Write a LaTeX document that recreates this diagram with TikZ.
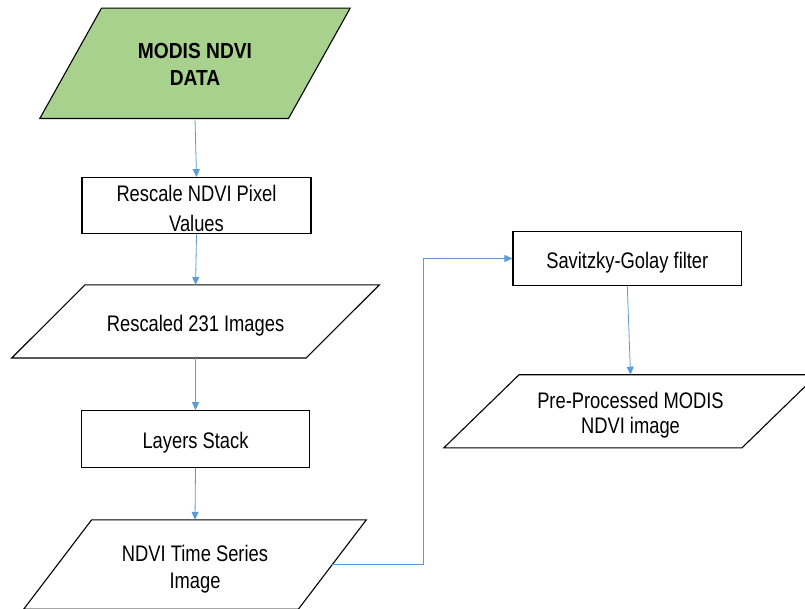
\documentclass[tikz,border=0pt]{standalone}
\usepackage{fontspec}
\setmainfont{Liberation Sans}[FakeStretch=0.815]
\newfontfamily\headfont{Liberation Sans}[FakeStretch=0.88]
\usetikzlibrary{arrows.meta,calc,backgrounds}
\definecolor{datagreen}{HTML}{A9D18E}
\definecolor{flowblue}{HTML}{5B9BD5}
% label text: first baseline raised by #1 (pt) from the node centre,
% lines #3 set #2 apart
\newcommand\boxtext[3]{\raisebox{#1pt}[0pt][0pt]{\fontsize{22.5}{#2}\selectfont
  \begin{tabular}[t]{@{}c@{}}#3\end{tabular}}}
\begin{document}
\begin{tikzpicture}[x=1pt,y=-1pt,
  txt/.style={inner sep=0pt},
  procbox/.style={txt, draw=black, line width=1.1pt},
  iobox/.style={txt},
  flow/.style={draw=flowblue, line width=0.8pt, -{Triangle[width=7pt,length=8pt]}},
  outline/.style={draw=black, line width=1.1pt, line join=miter}]
\useasboundingbox (0,0) rectangle (805,609);

% processing steps (boxes) and data items (parallelograms drawn below)
\node[iobox, minimum width=248.3pt, minimum height=110pt] (modis) at (195,63.3)
  {\raisebox{4.8pt}[0pt][0pt]{\headfont\bfseries\fontsize{21.8}{26.7}\selectfont
   \begin{tabular}[t]{@{}c@{}}MODIS NDVI\\DATA\end{tabular}}};
\node[procbox, minimum width=229pt, minimum height=56.3pt] (rescale) at (196.5,205.8)
  {\boxtext{4.1}{30}{Rescale NDVI Pixel\\Values}};
\node[iobox, minimum width=294pt, minimum height=72.7pt] (r231) at (195.6,321.4)
  {\boxtext{-10.3}{27}{Rescaled 231 Images}};
\node[procbox, minimum width=228.4pt, minimum height=56.6pt] (layers) at (195.5,439)
  {\boxtext{-9}{27}{Layers Stack}};
\node[iobox, minimum width=274.3pt, minimum height=89pt] (ndvits) at (195,564.5)
  {\boxtext{2.8}{26.7}{NDVI Time Series\\Image}};
\node[procbox, minimum width=228.7pt, minimum height=54.3pt] (savgol) at (627.3,258.5)
  {\boxtext{-9.5}{27}{Savitzky-Golay filter}};
\node[iobox, minimum width=297.7pt, minimum height=72.7pt] (preproc) at (630.5,411.3)
  {\boxtext{3.3}{25}{Pre-Processed MODIS\\NDVI image}};

% parallelogram outlines behind the data labels
\begin{pgfonlayer}{background}
\draw[outline, fill=datagreen]
  ($(modis.north west)+(30.85,0)$) -- ($(modis.north east)+(30.85,0)$) --
  ($(modis.south east)+(-30.85,0)$) -- ($(modis.south west)+(-30.85,0)$) -- cycle;
\draw[outline]
  ($(r231.north west)+(36.6,0)$) -- ($(r231.north east)+(36.6,0)$) --
  ($(r231.south east)+(-36.6,0)$) -- ($(r231.south west)+(-36.6,0)$) -- cycle;
\draw[outline]
  ($(ndvits.north west)+(34,0)$) -- ($(ndvits.north east)+(34,0)$) --
  ($(ndvits.south east)+(-34,0)$) -- ($(ndvits.south west)+(-34,0)$) -- cycle;
\draw[outline]
  ($(preproc.north west)+(37.6,0)$) -- ($(preproc.north east)+(37.6,0)$) --
  ($(preproc.south east)+(-37.6,0)$) -- ($(preproc.south west)+(-37.6,0)$) -- cycle;
\end{pgfonlayer}

% connectors
\coordinate (bend) at (423.3,565);
\draw[flow] (modis.south) -- (rescale.north);
\draw[flow] (rescale.south) -- (r231.north);
\draw[flow] (r231.south) -- (layers.north);
\draw[flow] (layers.south) -- (ndvits.north);
\draw[flow] (ndvits.east) -- (ndvits.east -| bend) |- (savgol.west);
\draw[flow] (savgol.south) -- (preproc.north);
\end{tikzpicture}
\end{document}
